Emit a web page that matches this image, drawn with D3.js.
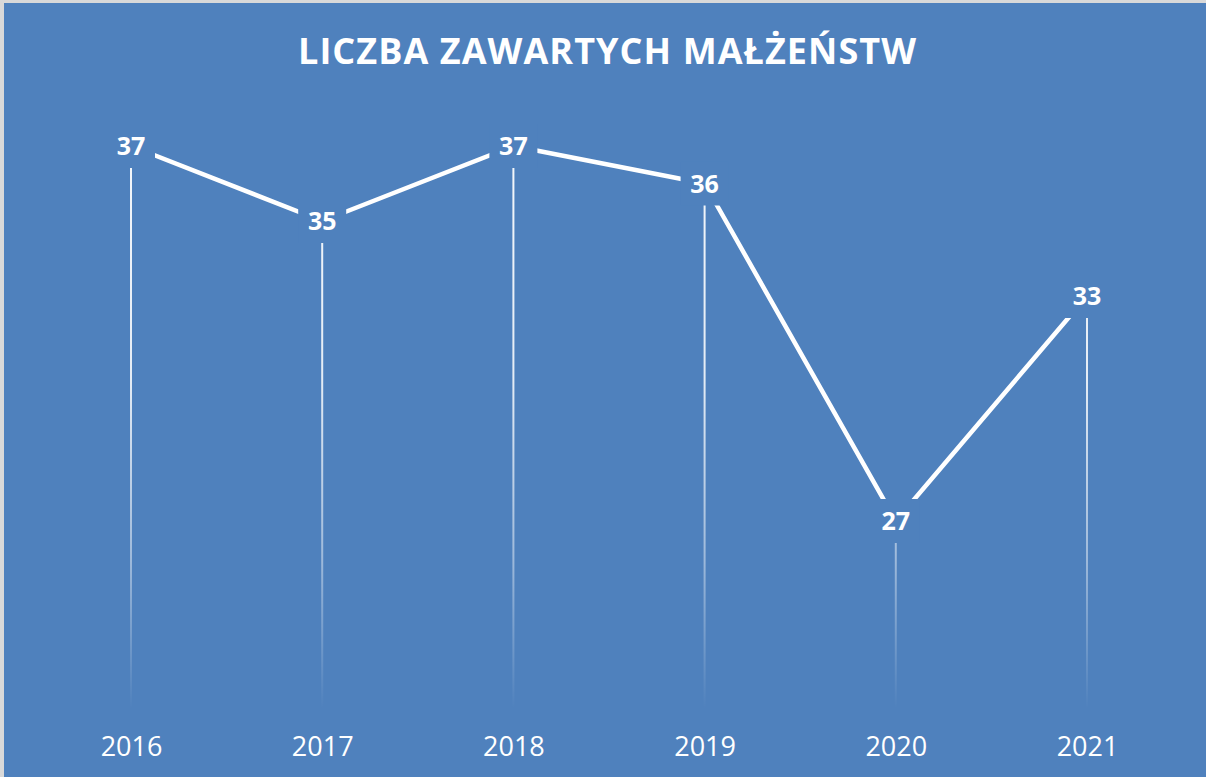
<!DOCTYPE html>
<html><head><meta charset="utf-8">
<script src="https://cdn.jsdelivr.net/npm/d3@7"></script>
<style>
html,body{margin:0;padding:0;background:#d9d9d9;overflow:hidden}
svg{display:block}
</style></head>
<body>
<script>
const years = ["2016","2017","2018","2019","2020","2021"];
const values = [37, 35, 37, 36, 27, 33];
const title = "LICZBA ZAWARTYCH MAŁŻEŃSTW";
const yDomain = [22, 38];

const W = 1206, H = 777;
const bg = "#4f81bd";
const svg = d3.select("body").append("svg").attr("width", W).attr("height", H);

svg.append("rect").attr("x", 4).attr("y", 3).attr("width", W - 4).attr("height", H - 3).attr("fill", bg);

const x = d3.scalePoint().domain(years).range([131, 1087]);
const y = d3.scaleLinear().domain(yDomain).range([708.5, 108.5]);

const defs = svg.append("defs");
const grad = defs.append("linearGradient").attr("id", "dropGrad")
  .attr("gradientUnits", "userSpaceOnUse")
  .attr("x1", 0).attr("x2", 0).attr("y1", y(yDomain[1])).attr("y2", y(yDomain[0]));
grad.append("stop").attr("offset", "0%").attr("stop-color", "#fff").attr("stop-opacity", 0.95);
grad.append("stop").attr("offset", "45%").attr("stop-color", "#fff").attr("stop-opacity", 0.85);
grad.append("stop").attr("offset", "75%").attr("stop-color", "#fff").attr("stop-opacity", 0.45);
grad.append("stop").attr("offset", "100%").attr("stop-color", "#fff").attr("stop-opacity", 0);

const data = years.map((yr, i) => ({ yr, v: values[i] }));

// drop lines
svg.append("g").selectAll("line").data(data).join("line")
  .attr("x1", d => x(d.yr)).attr("x2", d => x(d.yr))
  .attr("y1", d => y(d.v)).attr("y2", y(yDomain[0]))
  .attr("stroke", "url(#dropGrad)").attr("stroke-width", 2);

// series line
const line = d3.line().x(d => x(d.yr)).y(d => y(d.v));
svg.append("path").datum(data).attr("d", line)
  .attr("fill", "none").attr("stroke", "#fff").attr("stroke-width", 4.5)
  .attr("stroke-linejoin", "round");

// data labels with background boxes
const lg = svg.append("g").selectAll("g").data(data).join("g")
  .attr("transform", d => `translate(${x(d.yr)},${y(d.v)})`);
lg.append("rect").attr("x", -24).attr("y", -22).attr("width", 48).attr("height", 44).attr("fill", bg);
lg.append("text").attr("text-anchor", "middle").attr("y", 9)
  .attr("font-family", "'Open Sans', sans-serif").attr("font-weight", 700)
  .attr("font-size", 25).attr("fill", "#fff").text(d => d.v);

// x axis labels
const xAxis = d3.axisBottom(x).tickSize(0).tickPadding(0);
const ax = svg.append("g").attr("transform", "translate(0,737)").call(xAxis);
ax.select(".domain").remove();
ax.selectAll("text").attr("font-family", "'Open Sans', sans-serif").attr("font-size", 27)
  .attr("fill", "#fff").attr("dy", "0.71em");

// title
const t = svg.append("text").attr("x", 607).attr("y", 64).attr("text-anchor", "middle")
  .attr("font-family", "'Open Sans', sans-serif").attr("font-weight", 700)
  .attr("font-size", 36).attr("fill", "#fff").text(title);
const targetW = 618;
const n = title.length;
const w0 = t.node().getComputedTextLength();
const ls = (targetW - w0) / (n - 1);
t.attr("letter-spacing", ls).attr("x", 607 + ls / 2);
</script>
</body></html>
